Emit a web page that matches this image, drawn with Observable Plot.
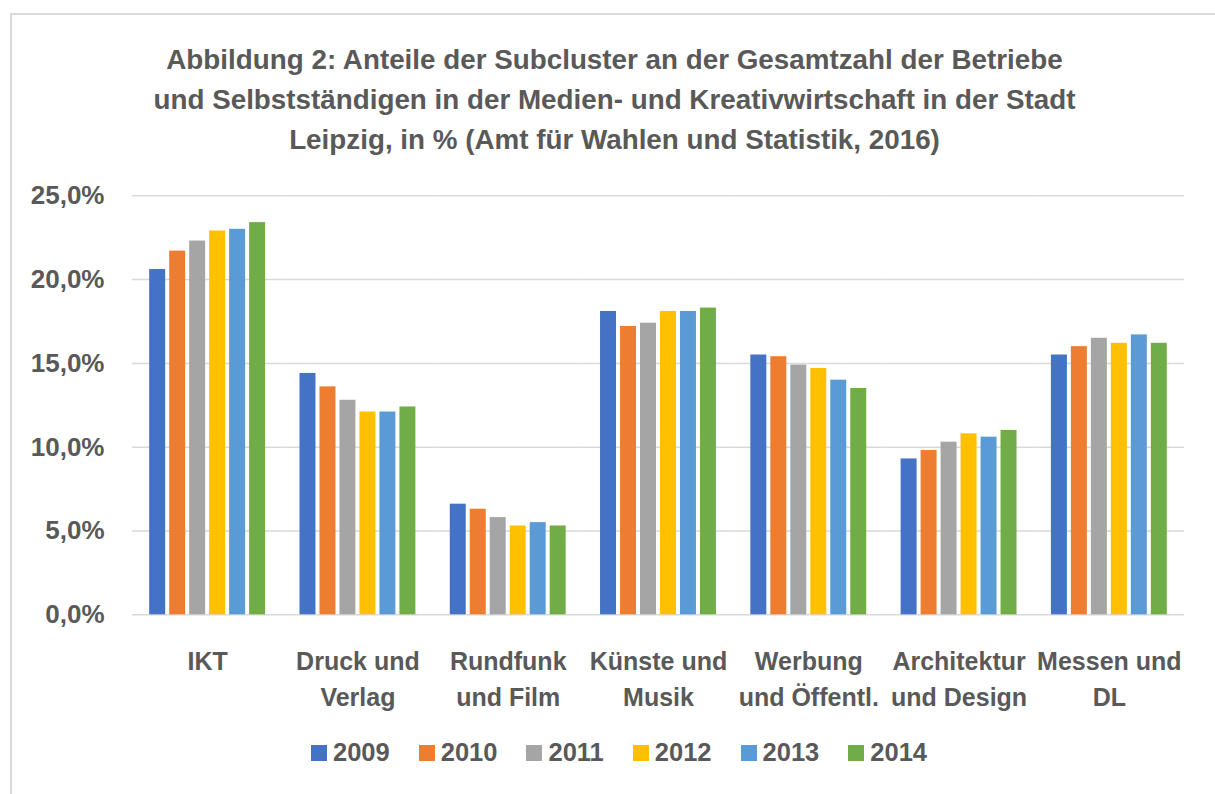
<!DOCTYPE html>
<html>
<head>
<meta charset="utf-8">
<script src="https://cdn.jsdelivr.net/npm/d3@7"></script>
<script src="https://cdn.jsdelivr.net/npm/@observablehq/plot@0.6"></script>
<style>
  html, body { margin: 0; padding: 0; background: #fff; }
  body { width: 1215px; height: 794px; position: relative; overflow: hidden; font-family: "Liberation Sans", Arial, sans-serif; }
  #frame { position: absolute; left: 10px; top: 13px; width: 1300px; height: 900px; border-left: 2px solid #d9d9d9; border-top: 2px solid #d9d9d9; }
  #title { position: absolute; left: 7px; top: 40px; width: 1215px; text-align: center; font-size: 27.8px; font-weight: bold; color: #595959; line-height: 40px; }
  #chart { position: absolute; left: 0; top: 0; }
  #legend { position: absolute; left: 311px; top: 738px; display: flex; align-items: center; font-size: 25.5px; font-weight: bold; color: #595959; }
  .item { display: flex; align-items: center; margin-right: 29px; }
  .sw { width: 16px; height: 16px; margin-right: 6px; }
</style>
</head>
<body>
<div id="frame"></div>
<div id="title">Abbildung 2: Anteile der Subcluster an der Gesamtzahl der Betriebe<br>und Selbstständigen in der Medien- und Kreativwirtschaft in der Stadt<br>Leipzig, in % (Amt für Wahlen und Statistik, 2016)</div>
<div id="chart"></div>
<div id="legend"></div>
<script>
const categories = ["IKT", "Druck und Verlag", "Rundfunk und Film", "Künste und Musik", "Werbung und Öffentl.", "Architektur und Design", "Messen und DL"];
const tickLabels = ["IKT", "Druck und\nVerlag", "Rundfunk\nund Film", "Künste und\nMusik", "Werbung\nund Öffentl.", "Architektur\nund Design", "Messen und\nDL"];
const years = ["2009", "2010", "2011", "2012", "2013", "2014"];
const colors = ["#4472C4", "#ED7D31", "#A5A5A5", "#FFC000", "#5B9BD5", "#70AD47"];
const v2009 = [20.6, 14.4, 6.6, 18.1, 15.5, 9.3, 15.5];
const v2010 = [21.7, 13.6, 6.3, 17.2, 15.4, 9.8, 16.0];
const v2011 = [22.3, 12.8, 5.8, 17.4, 14.9, 10.3, 16.5];
const v2012 = [22.9, 12.1, 5.3, 18.1, 14.7, 10.8, 16.2];
const v2013 = [23.0, 12.1, 5.5, 18.1, 14.0, 10.6, 16.7];
const v2014 = [23.4, 12.4, 5.3, 18.3, 13.5, 11.0, 16.2];
const yTicks = [0, 5, 10, 15, 20, 25];

const series = [v2009, v2010, v2011, v2012, v2013, v2014];
const data = [];
categories.forEach((c, i) => {
  years.forEach((y, j) => data.push({cat: c, year: y, value: series[j][i]}));
});
const labelOf = new Map(categories.map((c, i) => [c, tickLabels[i]]));

const chart = Plot.plot({
  width: 1215,
  height: 720,
  marginLeft: 132,
  marginRight: 31,
  marginTop: 195.3,
  marginBottom: 105.7,
  style: {color: "#595959", fontFamily: "'Liberation Sans', Arial, sans-serif", background: "transparent"},
  fx: {domain: categories, padding: 0, round: false},
  x: {domain: years, paddingInner: 0.2, paddingOuter: 0.86, round: false, axis: null},
  y: {domain: [0, 25]},
  color: {domain: years, range: colors},
  marks: [
    Plot.gridY(yTicks, {stroke: "#d9d9d9", strokeOpacity: 1, strokeWidth: 1.5}),
    Plot.barY(data, {fx: "cat", x: "year", y: "value", fill: "year"}),
    Plot.axisY({ticks: yTicks, tickSize: 0, tickPadding: 28, fontSize: 26, fontWeight: "bold", label: null,
      tickFormat: d => d.toFixed(1).replace(".", ",") + "%"}),
    Plot.axisFx({anchor: "bottom", tickSize: 0, tickPadding: 30, fontSize: 25, fontWeight: "bold", lineHeight: 1.44, label: null,
      tickFormat: d => labelOf.get(d)})
  ]
});
document.getElementById("chart").appendChild(chart);

const legend = document.getElementById("legend");
years.forEach((y, i) => {
  const item = document.createElement("div");
  item.className = "item";
  const sw = document.createElement("span");
  sw.className = "sw";
  sw.style.background = colors[i];
  const t = document.createElement("span");
  t.textContent = y;
  item.appendChild(sw);
  item.appendChild(t);
  legend.appendChild(item);
});
</script>
</body>
</html>
